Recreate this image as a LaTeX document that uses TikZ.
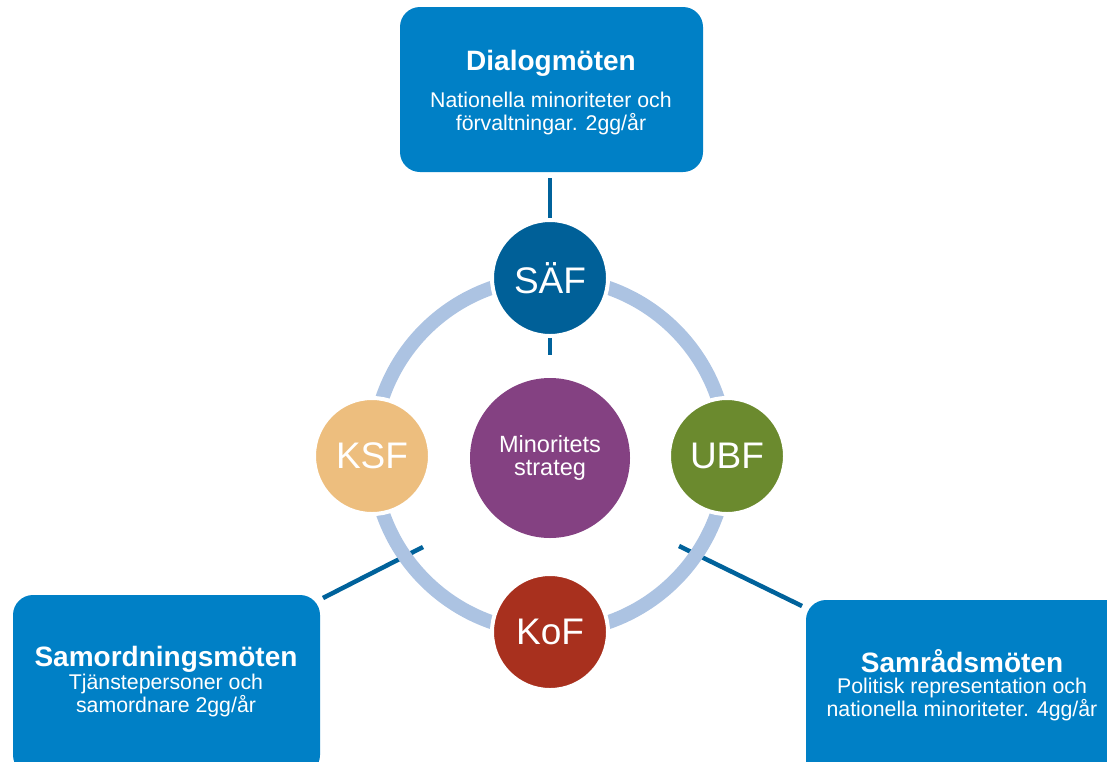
\documentclass[tikz,border=0pt]{standalone}
\usepackage{fontspec}
\setmainfont{Liberation Sans}
\definecolor{boxblue}{RGB}{0,128,198}
\definecolor{linkblue}{RGB}{0,98,155}
\definecolor{ringblue}{RGB}{172,195,226}
\definecolor{saef}{RGB}{0,96,152}
\definecolor{ksf}{RGB}{237,190,126}
\definecolor{ubf}{RGB}{107,138,46}
\definecolor{kof}{RGB}{168,48,30}
\definecolor{strat}{RGB}{132,65,130}
\tikzset{
  bigbox/.style={fill=boxblue, draw=none, rounded corners=20pt, inner sep=0pt},
  titletext/.style={text=white, font=\bfseries\fontsize{28}{30}\selectfont, inner sep=0pt},
  subtext/.style={text=white, font=\fontsize{21.3}{23}\selectfont, align=center, inner sep=0pt},
  member/.style={circle, draw=white, line width=4pt, minimum size=116pt, inner sep=0pt, text=white, font=\fontsize{37}{40}\selectfont},
  link/.style={draw=linkblue, line width=4.5pt},
  ring/.style={draw=ringblue, line width=14pt}
}
\begin{document}
\begin{tikzpicture}[x=1pt,y=-1pt]
\useasboundingbox (0,0) rectangle (1107,761);
\clip (0,0) rectangle (1107,761);
% connector end points
\coordinate (dtop) at (550,178);
\coordinate (dbot) at (550,355);
\coordinate (lout) at (323,598);
\coordinate (lin) at (423,547);
\coordinate (rin) at (679,546);
\coordinate (rout) at (802,606);
% connectors (below ring and circles)
\draw[link] (dtop) -- (dbot);
\draw[link] (lout) -- (lin);
\draw[link] (rin) -- (rout);
% ring
\coordinate (ringc) at (550,455);
\draw[ring] (ringc) circle[radius=177];
% centre
\node[circle, fill=strat, minimum size=160pt, inner sep=0pt, text=white, align=center,
      font=\fontsize{23.5}{23.5}\selectfont] (strategy) at (550,458) {Minoritets\\strateg};
% member circles
\node[member, fill=saef] (SAEF) at (550,278) {SÄF};
\node[member, fill=ksf]  (KSF)  at (372,456) {KSF};
\node[member, fill=ubf]  (UBF)  at (727,456) {UBF};
\node[member, fill=kof]  (KoF)  at (550,632) {KoF};
% boxes
\node[bigbox, minimum width=303pt, minimum height=165pt] (dialog) at (551.5,89.5) {};
\node[titletext] (dialogT) at (551,63) {Dialogmöten};
\node[subtext] (dialogS) at (551,113) {Nationella minoriteter och\\förvaltningar. 2gg/år};
\node[bigbox, minimum width=307pt, minimum height=180pt] (samord) at (166.5,685) {};
\node[titletext] (samordT) at (166,659) {Samordningsmöten};
\node[subtext] (samordS) at (166,695) {Tjänstepersoner och\\samordnare 2gg/år};
\node[bigbox, minimum width=320pt, minimum height=180pt] (samrad) at (966,690) {};
\node[titletext] (samradT) at (962,661) {Samrådsmöten};
\node[subtext] (samradS) at (962,699) {Politisk representation och\\nationella minoriteter. 4gg/år};
\end{tikzpicture}
\end{document}
